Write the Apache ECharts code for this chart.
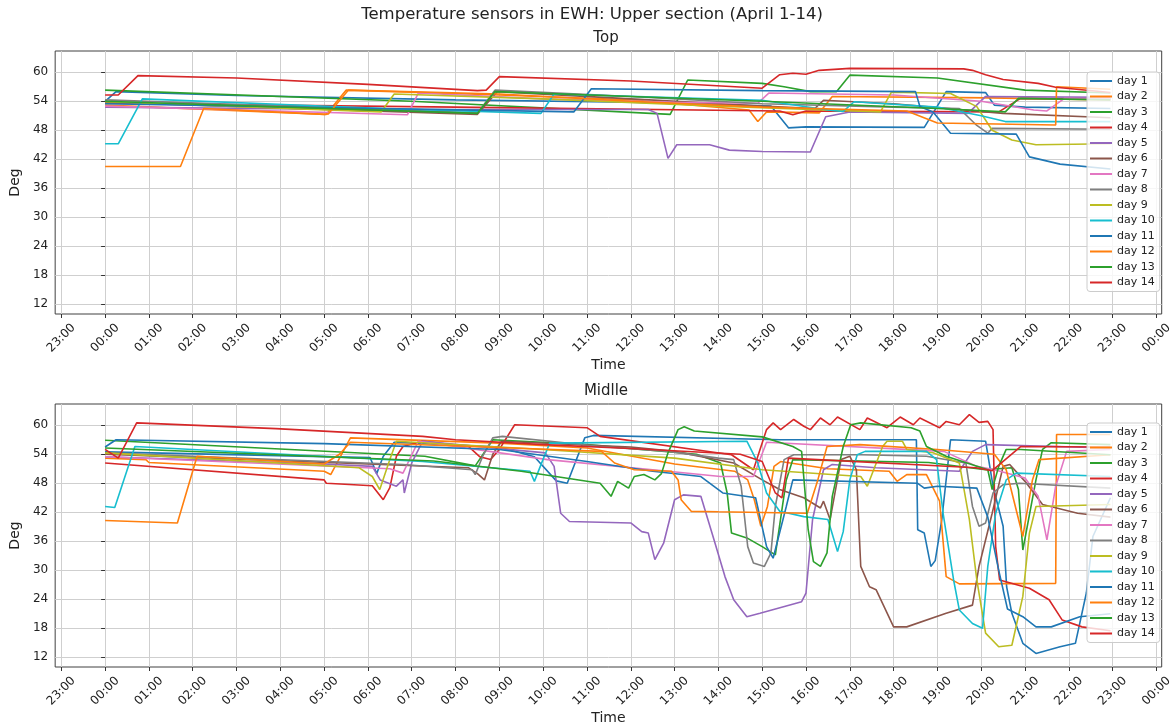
<!DOCTYPE html>
<html>
<head>
<meta charset="utf-8">
<script src="https://cdn.jsdelivr.net/npm/echarts@6/dist/echarts.min.js"></script>
<style>
  html, body { margin: 0; padding: 0; background: #fff; }
  #chart { width: 1175px; height: 727px; }
</style>
</head>
<body>
<div id="chart"></div>
<script>
// legend names and tick positions (hours from midnight)
var dayNames = ['day 1','day 2','day 3','day 4','day 5','day 6','day 7','day 8','day 9','day 10','day 11','day 12','day 13','day 14'];
var hourTicks = [-1,0,1,2,3,4,5,6,7,8,9,10,11,12,13,14,15,16,17,18,19,20,21,22,23,24];
var degTicks = [12,18,24,30,36,42,48,54,60];

// Top sensor: [hour, deg]
var top1 = [[0,54],[0.25,56],[3,55.2],[8,54.3],[12,53.8],[15.2,53],[15.6,48.5],[16,48.7],[18.7,48.6],[19.2,56],[20.1,55.8],[20.3,53.2],[21,52.8],[22.95,52.5]];
var top2 = [[0,53.2],[5.05,51.3],[5.5,56.3],[9,55.3],[12,54.3],[14.7,52.2],[14.9,49.8],[15.1,51.8],[16.3,51.6],[16.6,55],[20.2,54.7],[22.95,54.3]];
var top3 = [[0,56.3],[7,54],[12.9,51.3],[13.3,58.4],[15,57.7],[15.5,57],[16.1,56],[16.7,56],[17,59.4],[19,58.8],[21,56.3],[22.95,55.7]];
var top4 = [[0,53.6],[8,52.8],[15.4,52],[15.7,51.2],[16,52],[20.4,51.8],[20.9,54.6],[22.95,54.5]];
var top5 = [[0,52.8],[6,52.3],[12.4,52.3],[12.6,51.5],[12.85,42.2],[13.05,45],[13.8,45],[14.25,43.9],[15,43.6],[16.1,43.5],[16.45,50.8],[17,51.8],[19.7,51.5],[20.1,55],[22.95,54.8]];
var top6 = [[0,53.8],[8.5,51.3],[8.95,56],[12,54.5],[15,53],[16.2,52.5],[16.4,54.2],[18,53.5],[20.5,51.5],[22.95,50.6]];
var top7 = [[0,53],[6.9,51.2],[7.15,55.7],[10,54.5],[13,53.8],[14.9,53.6],[15.15,55.7],[18,55.3],[20,54],[21.2,52.2],[21.5,52],[21.9,54.6],[22.95,54.5]];
var top8 = [[0,54.3],[8.5,51.6],[8.9,56.3],[12,55],[15,53.5],[18,52.8],[19.5,52.5],[19.9,49],[20.15,47.4],[20.25,48.4],[22.95,48.2]];
var top9 = [[0,53.9],[6.3,51.8],[6.6,55.5],[10,54.5],[14,53],[17.7,51.8],[17.95,55.9],[19.3,55.6],[19.9,52.9],[20.25,48],[20.7,46],[21.25,45],[22.95,45.2]];
var top10 = [[0,45.2],[0.3,45.2],[0.85,54.5],[6.35,52.5],[9.95,51.5],[10.25,55.5],[15,54.2],[16.5,52.2],[16.85,51.9],[17.1,53.9],[19,52.8],[20,51],[20.55,49.8],[22.95,49.8]];
var top11 = [[0,53.5],[10.7,51.8],[11.1,56.6],[15,56.2],[18.5,56],[18.6,52.9],[18.9,51.8],[19.3,47.4],[20.8,47.2],[21.1,42.5],[21.8,41],[22.95,40]];
var top12 = [[0,40.5],[1.72,40.5],[2.25,52.5],[5,51.3],[5.1,51.4],[5.55,56.3],[9,55.5],[12,54],[15,52.8],[18.3,52],[19,49.5],[21.7,49.1],[21.72,57],[22.95,56.5]];
var top13 = [[0,54],[8.5,51.5],[8.9,56],[12,55],[15,54],[19,52.5],[20.55,51.8],[20.85,54.6],[22.95,54.3]];
var top14 = [[0,55.3],[0.3,55.3],[0.75,59.3],[3,58.8],[6,57.5],[8.5,56.2],[8.7,56.3],[9,59.1],[12,58.2],[15,56.7],[15.4,59.5],[15.7,59.8],[16,59.6],[16.3,60.4],[17,60.8],[19.6,60.7],[19.8,60.4],[20.1,59.5],[20.5,58.5],[21.3,57.7],[21.7,56.9],[22.95,55.8]];

// Middle sensor: [hour, deg]
var mid1 = [[0,54.5],[6.05,53.3],[6.2,50],[6.35,53.6],[6.6,56.5],[9,55.5],[9.8,53.5],[10.3,48.5],[10.55,48],[10.95,57.4],[11.15,57.9],[15.4,57],[18.52,57],[18.55,38.4],[18.7,37.7],[18.85,30.8],[18.95,32],[19.1,40.5],[19.3,57],[20.1,56.7],[20.27,47.4],[20.5,39.1],[20.58,26.6],[20.7,21.1],[20.95,14.9],[21.25,12.8],[21.8,14.2],[22.15,14.9],[22.4,25.3],[22.55,37],[22.95,45]];
var mid2 = [[0,53.2],[0.93,52.9],[1,52.3],[5,50.5],[5.15,49.8],[5.6,57.4],[9,56.3],[11,55.3],[13,52],[14.37,50.5],[14.67,48.7],[14.82,44.6],[14.97,39.1],[15.12,43.2],[15.27,51.5],[15.42,52.5],[16.5,51],[17.9,50.5],[18.08,48.4],[18.3,49.8],[18.75,49.8],[19.05,44.3],[19.2,28.7],[19.5,27.2],[21.7,27.3],[21.72,58.1],[22.95,58.1]];
var mid3 = [[0,56.9],[7.3,53.6],[8.45,51.6],[8.85,57],[11,56],[13.5,54],[14.05,52.2],[14.2,46],[14.3,37.7],[14.65,36.7],[15,34.9],[15.3,33.2],[15.55,48.7],[15.7,52.9],[18.8,52.3],[20.1,50.8],[20.7,51.2],[20.85,46.7],[20.95,34.2],[21.25,48.7],[21.4,55],[21.6,56.4],[22.95,56]];
var mid4 = [[0,52.2],[5,48.7],[5.05,48],[6.1,47.5],[6.35,44.6],[6.5,47.1],[6.65,53.6],[6.8,55.6],[7.25,56.7],[8.3,55.6],[8.55,53.5],[8.8,52.9],[9,55],[9.35,60.1],[11,59.5],[11.3,57.7],[14.3,53.9],[14.8,50.8],[15.1,59.1],[15.25,60.5],[15.42,59.1],[15.72,61.2],[15.95,59.8],[16.1,59.1],[16.33,61.5],[16.55,60.1],[16.72,61.7],[17.23,59.1],[17.4,61.5],[17.85,59.5],[18.15,61.7],[18.45,60.1],[18.6,61.5],[19.05,59.5],[19.2,60.8],[19.5,60.1],[19.73,62.2],[19.95,60.6],[20.15,60.8],[20.27,59.1],[20.33,34.9],[20.42,28],[21.1,26.3],[21.55,23.9],[21.85,19.7],[22.3,18.3],[22.95,17.5]];
var mid5 = [[0,53.5],[5,52],[6.1,51.5],[6.28,48.7],[6.65,47.4],[6.8,48.7],[6.83,46],[7,52.2],[7.25,56.7],[10.05,54.3],[10.25,51.5],[10.4,41.8],[10.6,40.1],[12,39.8],[12.25,38],[12.4,37.7],[12.55,32.2],[12.75,35.6],[13,44.6],[13.2,45.6],[13.6,45.3],[13.9,36.3],[14.15,28.7],[14.35,23.9],[14.65,20.4],[14.95,21.1],[15.9,23.5],[16,25.3],[16.15,40.5],[16.4,50.8],[16.6,51.9],[17.6,51.2],[19.5,50.5],[19.8,54.6],[20.1,56],[22.95,55.3]];
var mid6 = [[0,54],[8.3,51.2],[8.5,50],[8.66,48.7],[8.85,54],[9.05,56.7],[12,55.5],[13,54.6],[14.35,52.2],[15,48.7],[15.4,46.7],[15.95,45],[16.33,42.9],[16.4,44.3],[16.55,40.5],[16.8,52.9],[17,53.6],[17.15,50.8],[17.25,30.8],[17.45,26.6],[17.6,26],[18,18.3],[18.3,18.3],[19.2,21.1],[19.8,22.8],[19.95,30.8],[20.25,41.8],[20.5,51.5],[20.65,51.9],[21,48.4],[21.4,43.6],[22.2,41.8],[22.95,41]];
var mid7 = [[0,53.5],[6.5,51],[6.8,50.1],[7.15,56.7],[10.1,52.9],[12.85,50.5],[14.05,49.4],[14.8,49.4],[15.1,56.5],[19.15,54.6],[19.9,51.5],[20.3,50.8],[21,49.1],[21.3,45.3],[21.5,36.3],[21.7,47.4],[21.95,54.6],[22.95,55]];
var mid8 = [[0,54.3],[6.8,51.9],[8.38,50.8],[8.45,49.8],[8.62,53.6],[8.85,57.4],[9.07,57.7],[11.3,55.6],[12.85,54.6],[14,53.2],[14.35,52.9],[14.52,47.4],[14.67,34.9],[14.8,31.5],[15.05,30.8],[15.2,33.6],[15.3,43.2],[15.5,52.9],[15.72,53.9],[17.25,53.9],[18.75,53.6],[19.65,52.2],[19.8,43.2],[19.95,39.1],[20.1,39.8],[20.27,46],[20.5,47.7],[20.87,48],[22.95,47]];
var mid9 = [[0,54.3],[5.8,51.2],[6.1,49.4],[6.27,46.7],[6.5,52.9],[6.65,56.7],[10,55],[13,53.2],[15,50.8],[17.25,49.4],[17.4,47.4],[17.75,55.6],[17.85,56.7],[18.2,56.7],[18.3,55],[18.9,54.3],[19.5,52.2],[19.73,40.5],[19.9,28],[20.1,17],[20.4,14.2],[20.7,14.5],[20.95,24.6],[21.1,37.7],[21.25,43.2],[22.95,43.6]];
var mid10 = [[0,43.2],[0.22,43],[0.68,55.6],[7.25,52.5],[9.7,50.5],[9.8,48.4],[10,53],[10.15,56.3],[14.65,56.7],[14.9,52.2],[15.1,46],[15.4,42.2],[15.95,41.1],[16.5,40.5],[16.72,33.9],[16.85,38],[17,48.7],[17.17,53.9],[17.35,54.6],[18.75,54.6],[18.98,52.9],[19.13,41.8],[19.37,28],[19.5,21.8],[19.8,19],[20.03,18],[20.15,30.8],[20.33,41.8],[20.57,48.7],[20.8,50.1],[22.95,49.4]];
var mid11 = [[0,55.5],[0.25,57],[5,56.2],[9,55],[11,52.5],[12.5,50.5],[13.6,49.4],[14.1,46],[14.85,45],[15.1,34.9],[15.25,32.5],[15.55,43.2],[15.7,48.7],[18.55,48],[18.7,47],[19,47.4],[19.9,47],[20.15,41],[20.4,30],[20.6,22],[20.95,20.4],[21.25,18.3],[21.6,18.3],[22.25,20.4],[22.95,21]];
var mid12 = [[0,40.3],[1.65,39.8],[2.1,53.6],[5,52],[5.35,54],[5.6,56.5],[9.3,55.3],[11.33,54.6],[11.63,52.2],[12.08,50.8],[12.93,50.5],[13.08,48.7],[13.15,44.6],[13.38,42.2],[14,42.1],[16.03,41.8],[16.27,48.7],[16.48,55.6],[17.23,56],[19,55],[20.3,54],[20.57,50.8],[20.95,37],[21.17,48.7],[21.32,52.9],[22.95,53.9]];
var mid13 = [[0,55.3],[7.5,52.6],[9.5,50.5],[11.3,48],[11.55,45.3],[11.7,48.4],[11.95,47],[12.08,49.4],[12.3,49.8],[12.55,48.7],[12.7,50],[12.85,54.3],[13.08,59.1],[13.22,59.7],[13.45,58.8],[15,57.6],[15.7,55.6],[15.9,54.6],[16.05,38.4],[16.17,31.8],[16.33,30.8],[16.48,33.6],[16.6,45.3],[16.85,55.6],[17.02,60.1],[17.25,60.5],[18.4,59.5],[18.6,58.8],[18.75,55.6],[19.2,53.6],[20.15,50.8],[20.25,46.7],[20.4,51.5],[20.57,55],[20.9,55],[22.95,53.9]];
var mid14 = [[0,55],[0.3,53.2],[0.72,60.5],[3.9,59.3],[7.25,57.7],[8,57],[10,56],[12,55.2],[14.5,54],[15,52.5],[15.3,46],[15.45,45],[15.6,53.2],[19.88,51.2],[20.25,50.6],[20.9,55.6],[22.95,55.5]];

var topData = [top1,top2,top3,top4,top5,top6,top7,top8,top9,top10,top11,top12,top13,top14];
var midData = [mid1,mid2,mid3,mid4,mid5,mid6,mid7,mid8,mid9,mid10,mid11,mid12,mid13,mid14];

var colorList = ['#1f77b4','#ff7f0e','#2ca02c','#d62728','#9467bd','#8c564b','#e377c2','#7f7f7f','#bcbd22','#17becf','#1f77b4','#ff7f0e','#2ca02c','#d62728'];
var fontFam = 'DejaVu Sans';

function hourLabel(v) {
	var h = ((Math.round(v) % 24) + 24) % 24;
	return (h < 10 ? '0' : '') + h + ':00';
}

function makeX(idx) {
	return {
		type: 'value', gridIndex: idx, min: -1.14, max: 24.12,
		name: 'Time', nameLocation: 'middle', nameGap: 44,
		nameTextStyle: { fontFamily: fontFam, fontSize: 14, color: '#222' },
		axisLine: { show: false },
		axisTick: { show: true, length: 4, customValues: hourTicks, lineStyle: { color: '#333' } },
		axisLabel: {
			customValues: hourTicks, rotate: 45, align: 'center', verticalAlign: 'middle', margin: 24,
			fontFamily: fontFam, fontSize: 12, color: '#222', formatter: hourLabel
		},
		splitLine: { show: true, lineStyle: { color: '#cfcfcf', width: 1 } }
	};
}

function makeY(idx) {
	return {
		type: 'value', gridIndex: idx, min: 10.0, max: 64.4,
		name: 'Deg', nameLocation: 'middle', nameGap: 31, nameRotate: 90,
		nameTextStyle: { fontFamily: fontFam, fontSize: 14, color: '#222' },
		axisLine: { show: false },
		axisTick: { show: true, length: 4, customValues: degTicks, lineStyle: { color: '#333' } },
		axisLabel: { customValues: degTicks, margin: 7, fontFamily: fontFam, fontSize: 12, color: '#222' },
		splitLine: { show: true, lineStyle: { color: '#cfcfcf', width: 1 } }
	};
}

function makeLegend(top) {
	return {
		orient: 'vertical', left: 1087, top: top,
		data: dayNames, icon: 'rect', itemWidth: 22, itemHeight: 2, itemGap: 1.5,
		padding: [2, 5, 2, 3],
		backgroundColor: 'rgba(255,255,255,0.8)', borderColor: '#cccccc', borderWidth: 1, borderRadius: 3,
		textStyle: { fontFamily: fontFam, fontSize: 11, color: '#222', lineHeight: 14 },
		selectedMode: false
	};
}

var seriesList = [];
for (var i = 0; i < 14; i++) {
	seriesList.push({
		name: dayNames[i], type: 'line', xAxisIndex: 0, yAxisIndex: 0,
		data: topData[i], showSymbol: false, symbol: 'none',
		lineStyle: { width: 1.6, color: colorList[i] }, itemStyle: { color: colorList[i] }
	});
}
for (var j = 0; j < 14; j++) {
	seriesList.push({
		name: dayNames[j], type: 'line', xAxisIndex: 1, yAxisIndex: 1,
		data: midData[j], showSymbol: false, symbol: 'none',
		lineStyle: { width: 1.6, color: colorList[j] }, itemStyle: { color: colorList[j] }
	});
}

var myChart = echarts.init(document.getElementById('chart'));
var option = {
	backgroundColor: '#ffffff',
	animation: false,
	graphic: [
		{ type: 'text', x: 592, y: 15, style: { text: 'Temperature sensors in EWH: Upper section (April 1-14)', align: 'center', verticalAlign: 'middle', font: '16.5px "DejaVu Sans"', fill: '#222' } },
		{ type: 'text', x: 606, y: 38, style: { text: 'Top', align: 'center', verticalAlign: 'middle', font: '15px "DejaVu Sans"', fill: '#222' } },
		{ type: 'text', x: 606, y: 391, style: { text: 'Midlle', align: 'center', verticalAlign: 'middle', font: '15px "DejaVu Sans"', fill: '#222' } }
	],
	grid: [
		{ left: 50, top: 51, width: 1113, height: 263, show: true, borderColor: '#404040', borderWidth: 1 },
		{ left: 50, top: 404, width: 1113, height: 263, show: true, borderColor: '#404040', borderWidth: 1 }
	],
	legend: [makeLegend(72), makeLegend(423)],
	xAxis: [makeX(0), makeX(1)],
	yAxis: [makeY(0), makeY(1)],
	series: seriesList
};
myChart.setOption(option);
</script>
</body>
</html>
